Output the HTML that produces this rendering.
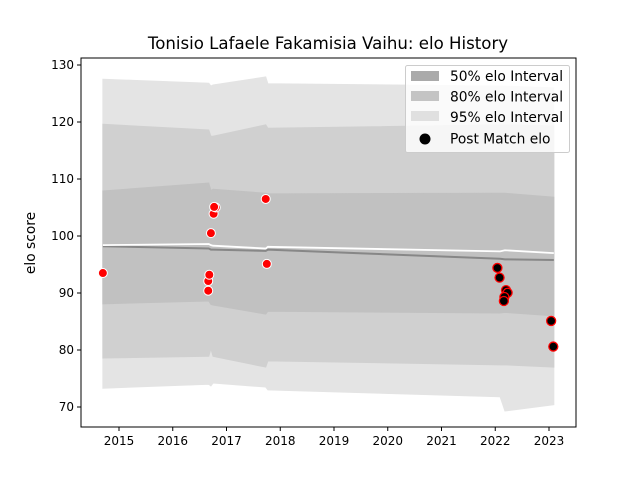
<!DOCTYPE html>
<html><head><meta charset="utf-8"><style>
body{margin:0;background:#fff}
svg text{font-family:"DejaVu Sans","Liberation Sans",sans-serif}
</style></head><body>
<svg id="c" width="640" height="480" xmlns="http://www.w3.org/2000/svg">
<rect width="640" height="480" fill="#fff"/>
<g id="plot"></g>
<g id="axes"></g>
</svg>
<script>
const bandYears=[2014.70,2016.67,2016.71,2016.75,2017.73,2017.77,2022.09,2022.18,2023.09];
const b95hi=[127.5,126.8,126.3,126.5,127.9,126.7,126.3,126.3,126.0];
const b95lo=[73.3,74.0,73.7,74.2,73.5,73.0,71.8,69.3,70.4];
const b80hi=[119.6,118.6,117.5,117.5,119.5,118.9,119.5,119.5,119.3];
const b80lo=[78.6,78.9,80.2,78.9,77.0,78.1,77.4,77.4,77.0];
const b50hi=[107.9,109.3,108.0,108.2,107.5,107.4,107.5,107.5,106.8];
const b50lo=[88.1,88.6,88.0,87.9,86.3,86.8,86.5,86.6,86.0];
const meanLine=[98.2,97.8,97.6,97.6,97.4,97.6,96.0,95.9,95.8];
const whiteLine=[98.4,98.6,98.4,98.3,97.8,98.1,97.3,97.5,97.0];
const earlyX=[2014.70,2016.71,2016.76,2016.80,2016.77,2017.73,2016.66,2016.68,2016.66,2017.75];
const earlyY=[93.5,100.5,103.9,105.0,105.1,106.5,92.1,93.2,90.4,95.1];
const lateX=[2022.04,2022.08,2022.20,2022.23,2022.17,2022.16,2023.04,2023.08];
const lateY=[94.4,92.7,90.5,90.05,89.3,88.6,85.1,80.6];
const xTicks=[2015,2016,2017,2018,2019,2020,2021,2022,2023];
const yTicks=[70,80,90,100,110,120,130];
const L=81,R=576,T=58,B=427;
const X=v=>119+(v-2015)*53.75;
const Y=v=>407-(v-70)*5.7;
const NS="http://www.w3.org/2000/svg";
const plot=document.getElementById('plot'),axes=document.getElementById('axes');
function mk(p,t,a){const e=document.createElementNS(NS,t);for(const k in a)e.setAttribute(k,a[k]);p.appendChild(e);return e;}
function band(hi,lo,fill,name){
  let pts=bandYears.map((y,i)=>X(y)+','+Y(hi[i]));
  pts=pts.concat(bandYears.map((y,i)=>X(y)+','+Y(lo[i])).reverse());
  const e=mk(plot,'polygon',{points:pts.join(' '),fill:fill,stroke:fill,'stroke-width':1});
  
  
}
band(b95hi,b95lo,'#e4e4e4','band-95');
band(b80hi,b80lo,'#d0d0d0','band-80');
band(b50hi,b50lo,'#c1c1c1','band-50');
function line(vals,col,w,name){
  const e=mk(plot,'polyline',{points:bandYears.map((y,i)=>X(y)+','+Y(vals[i])).join(' '),fill:'none',stroke:col,'stroke-width':w});
  
  
}
line(meanLine,'#878787',2,'mean-elo-line');
line(whiteLine,'#ffffff',1.8,'expected-elo-line');
earlyX.forEach((x,i)=>{
  const e=mk(plot,'circle',{cx:X(x),cy:Y(earlyY[i]),r:4.5,fill:'#ff0000',stroke:'#fff','stroke-width':1});
  
  
});
lateX.forEach((x,i)=>{
  const e=mk(plot,'circle',{cx:X(x),cy:Y(lateY[i]),r:4.5,fill:'#000',stroke:'#ff0000','stroke-width':1.3});
  
  
});
const fr=mk(axes,'rect',{x:L,y:T,width:R-L,height:B-T,fill:'none',stroke:'#000','stroke-width':1});


xTicks.forEach(t=>{
  mk(axes,'line',{x1:X(t),x2:X(t),y1:B,y2:B+4,stroke:'#000'});
  const e=mk(axes,'text',{x:X(t),y:B+18,'text-anchor':'middle','font-size':12,fill:'#000'});e.textContent=t;
  
  
});
yTicks.forEach(t=>{
  mk(axes,'line',{x1:L-4,x2:L,y1:Y(t),y2:Y(t),stroke:'#000'});
  const e=mk(axes,'text',{x:L-7,y:Y(t)+4,'text-anchor':'end','font-size':12,fill:'#000'});e.textContent=t;
  
  
});
</script>
<svg style="position:absolute;left:0;top:0" width="640" height="480">
<text x="328" y="49" text-anchor="middle" font-size="16.6" fill="#000">Tonisio Lafaele Fakamisia Vaihu: elo History</text>
<text transform="translate(35,243) rotate(-90)" text-anchor="middle" font-size="13.8" fill="#000">elo score</text>
<g>
<rect x="405.5" y="65.5" width="164" height="87" rx="2" fill="#fff" fill-opacity="0.8" stroke="#ccc"/>
<rect x="411" y="71" width="28" height="10" fill="#aaaaaa"/>
<text x="450" y="81" font-size="13.8">50% elo Interval</text>
<rect x="411" y="91" width="28" height="10" fill="#c4c4c4"/>
<text x="450" y="101.5" font-size="13.8">80% elo Interval</text>
<rect x="411" y="111" width="28" height="10" fill="#e0e0e0"/>
<text x="450" y="122" font-size="13.8">95% elo Interval</text>
<circle cx="425" cy="139" r="5.5" fill="#000"/>
<text x="450" y="143.5" font-size="13.8">Post Match elo</text>
</g>
</svg>
</body></html>
